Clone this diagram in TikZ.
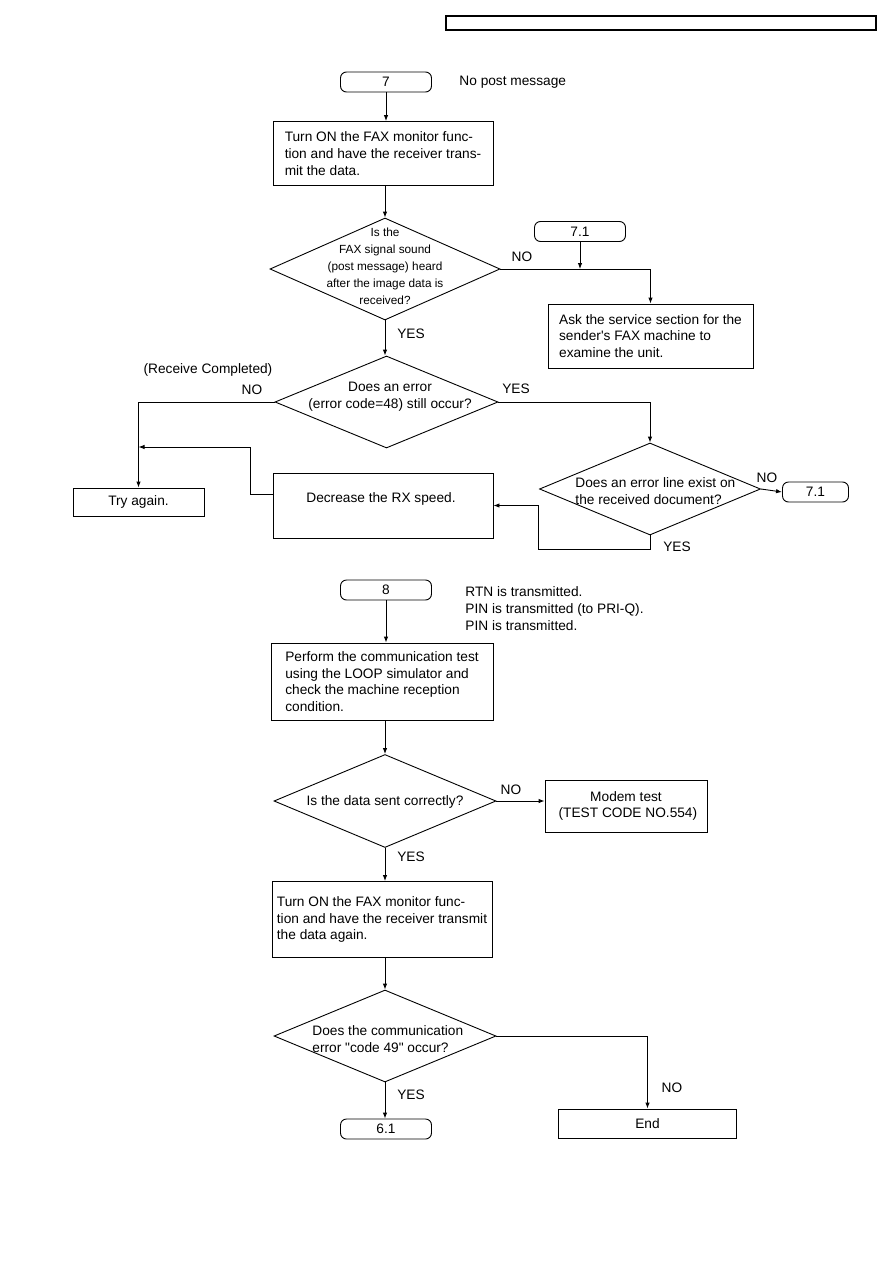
\documentclass[tikz,border=0pt]{standalone}
\usepackage{fontspec}
\setmainfont{Liberation Sans}
\newfontfamily\chartface{Liberation Sans}
\usetikzlibrary{shapes.geometric,arrows.meta}
\newcommand\chartfont{\chartface\fontsize{13.7}{16.8}\selectfont}

\begin{document}
\begin{tikzpicture}[x=1pt,y=-1pt,line width=0.9pt,
  every node/.style={font=\chartfont,inner sep=0pt},
  term/.style={draw,rounded corners=6pt,minimum width=91pt,minimum height=20pt},
  stepbox/.style={draw,align=left},
  dia/.style={draw,diamond,inner sep=0pt},
  arr/.style={-{Latex[length=6pt,width=4.5pt]}},
  note/.style={anchor=west,align=left}]
\useasboundingbox (0,0) rectangle (893,1263);
\node[draw,line width=1.3pt,minimum width=430pt,minimum height=14pt] (hdr) at (661,23) {};

% flow 7
\node[term] (t7) at (386,82) {7};
\node[note] (n7) at (459,82) {No post message};
\node[stepbox,minimum width=220pt,minimum height=64pt] (b1) at (383,153.5)
  {Turn ON the FAX monitor func-\\tion and have the receiver trans-\\mit the data.};
\node[dia,minimum width=230pt,minimum height=102pt] (d1) at (385,269) {};
\node[align=center,font=\chartface\fontsize{11.8}{17}\selectfont] (d1t) at (385,266)
  {Is the\\FAX signal sound\\(post message) heard\\after the image data is\\received?};
\node[term,minimum width=91pt] (t71a) at (580,231.5) {7.1};
\node[stepbox,minimum width=205pt,minimum height=64pt] (b2) at (650.5,336)
  {Ask the service section for the\\sender's FAX machine to\\examine the unit.};
\node (no1) at (522,257) {NO};
\node (yes1) at (411,334) {YES};

\node[dia,minimum width=223pt,minimum height=92pt] (d2) at (386.5,402) {};
\node[align=center] (d2t) at (390,397) {Does an error\\(error code=48) still occur?};
\node (rc) at (208,370) {(Receive Completed)};
\node (no2) at (252,390) {NO};
\node (yes2) at (516,389) {YES};

\node[dia,minimum width=221pt,minimum height=92pt] (d3) at (650,489) {};
\node[note] (d3t) at (575,491) {Does an error line exist on\\the received document?};
\node[term,minimum width=66pt] (t71b) at (815.5,492) {7.1};
\node (no3) at (767,478) {NO};
\node (yes3) at (677,547) {YES};

\node[stepbox,minimum width=220pt,minimum height=65pt] (dec) at (383,505.5) {};
\node (dect) at (381,499) {Decrease the RX speed.};
\node[stepbox,minimum width=131pt,minimum height=28pt] (try) at (138.5,502) {Try again.};

\draw[arr] (t7.south) -- (t7.south |- b1.north);
\draw[arr] (d1.north |- b1.south) -- (d1.north);
\draw[arr] (d1.east) -| (b2.north);
\draw[arr] (t71a.south) -- (t71a.south |- d1.east);
\draw[arr] (d1.south) -- (d1.south |- d2.north);
\draw[arr] (d2.west) -| (try.north);
\draw[arr] (d2.east) -| (d3.north);
\draw[arr] (d3.east) -- (t71b.west);
\coordinate (k2) at (538,549);
\draw[arr] (d3.south) |- (k2) |- (dec.east);
\coordinate (k1) at (250,447);
\draw[arr] ([yshift=11pt]dec.west) -| (k1) -- (k1 -| try.north);

% flow 8
\node[term] (t8) at (386,590) {8};
\node[note] (n8) at (465,608.5) {RTN is transmitted.\\PIN is transmitted (to PRI-Q).\\PIN is transmitted.};
\node[stepbox,minimum width=222pt,minimum height=77pt] (b3) at (382,681.5)
  {Perform the communication test\\using the LOOP simulator and\\check the machine reception\\condition.};
\node[dia,minimum width=222pt,minimum height=93pt] (d4) at (385,801) {};
\node (d4t) at (385,802) {Is the data sent correctly?};
\node[stepbox,align=center,minimum width=162pt,minimum height=52pt] (modem) at (626,806)
  {Modem test\\\ (TEST CODE NO.554)};
\node (no4) at (511,790) {NO};
\node (yes4) at (411,857) {YES};

\node[stepbox,minimum width=220pt,minimum height=76pt] (b4) at (382,919.5)
  {Turn ON the FAX monitor func-\\tion and have the receiver transmit\\the data again.};
\node[dia,minimum width=222pt,minimum height=92pt] (d5) at (385,1036) {};
\node[note] (d5t) at (312,1039) {Does the communication\\error "code 49" occur?};
\node (yes5) at (411,1095) {YES};
\node (no5) at (672,1088) {NO};
\node[term] (t61) at (386,1129) {6.1};
\node[stepbox,minimum width=178pt,minimum height=29pt] (endb) at (647.5,1123.5) {End};

\draw[arr] (t8.south) -- (t8.south |- b3.north);
\draw[arr] (d4.north |- b3.south) -- (d4.north);
\draw[arr] (d4.east) -- (d4.east -| modem.west);
\draw[arr] (d4.south) -- (d4.south |- b4.north);
\draw[arr] (d5.north |- b4.south) -- (d5.north);
\draw[arr] (d5.south) -- (d5.south |- t61.north);
\draw[arr] (d5.east) -| (endb.north);
\end{tikzpicture}
\end{document}
